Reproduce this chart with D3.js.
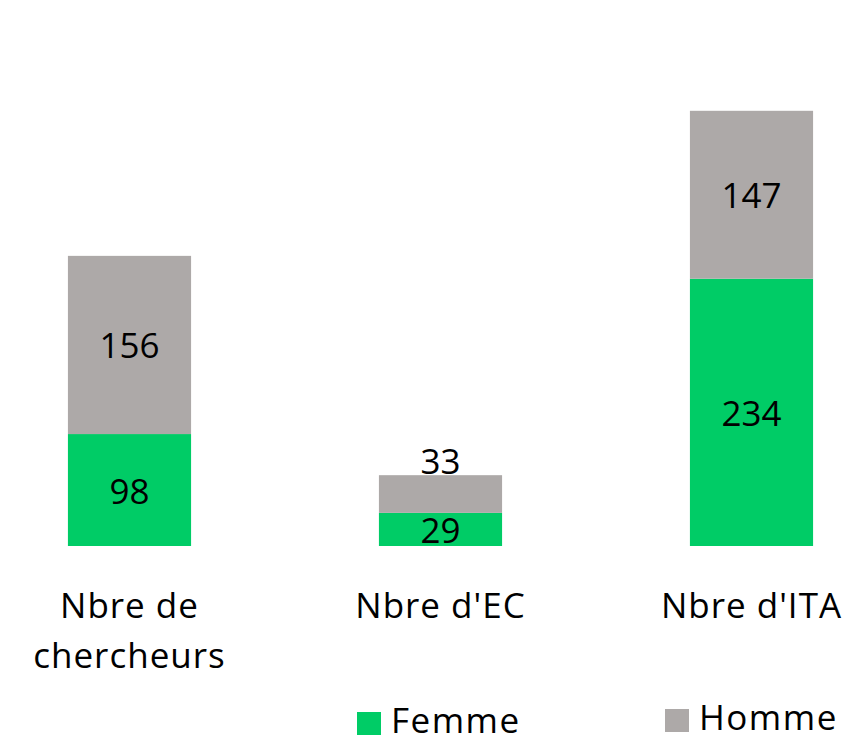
<!DOCTYPE html>
<html><head><meta charset="utf-8">
<script src="https://cdn.jsdelivr.net/npm/d3@7"></script>
<style>body{margin:0;background:#fff}svg{display:block}text{font-family:"Open Sans","Noto Sans",sans-serif;fill:#000}</style>
</head><body>
<svg id="c" width="851" height="738"></svg>
<script>
const categories = ["Nbre de chercheurs", "Nbre d'EC", "Nbre d'ITA"];
const categoryLines = [["Nbre de", "chercheurs"], ["Nbre d'EC"], ["Nbre d'ITA"]];
const femme = [98, 29, 234];
const homme = [156, 33, 147];
const seriesNames = ["Femme", "Homme"];
const colors = ["#00CC66", "#ADA9A8"];
// label placement for Homme values: inside segment or above bar
const hommeLabelAbove = [false, true, false];

const svg = d3.select("#c");
const W = 851, H = 738;
const x = d3.scaleBand().domain(categories).range([-26, 907]).paddingInner(0.604).paddingOuter(0.302);
const yMax = 381 / (435 / 381) ; // placeholder not used
const y = d3.scaleLinear().domain([0, 478]).range([546, 0]);

const data = categories.map((c, i) => ({cat: c, Femme: femme[i], Homme: homme[i]}));
const stacked = d3.stack().keys(seriesNames)(data);

const g = svg.append("g");
stacked.forEach((s, si) => {
  g.selectAll(null).data(s).enter().append("rect")
    .attr("x", d => x(d.data.cat))
    .attr("width", x.bandwidth())
    .attr("y", d => y(d[1]))
    .attr("height", d => y(d[0]) - y(d[1]))
    .attr("fill", colors[si]);
});

// value labels
stacked.forEach((s, si) => {
  g.selectAll(null).data(s).enter().append("text")
    .attr("x", d => x(d.data.cat) + x.bandwidth() / 2)
    .attr("y", (d, i) => {
      if (si === 1 && hommeLabelAbove[i]) return y(d[1]) - 15;
      return (y(d[0]) + y(d[1])) / 2;
    })
    .attr("text-anchor", "middle")
    .attr("dominant-baseline", "central")
    .attr("font-size", 35)
    .text(d => d[1] - d[0]);
});

// category labels
categories.forEach((c, i) => {
  const t = svg.append("text")
    .attr("x", x(c) + x.bandwidth() / 2)
    .attr("y", 618)
    .attr("text-anchor", "middle")
    .attr("font-size", 35)
    .attr("letter-spacing", 1);
  categoryLines[i].forEach((ln, j) => {
    t.append("tspan").attr("x", x(c) + x.bandwidth() / 2).attr("dy", j === 0 ? 0 : 50).text(ln);
  });
});

// legend
const legendPos = [{x: 357, y: 712}, {x: 665, y: 709}];
seriesNames.forEach((n, i) => {
  const lg = svg.append("g").attr("transform", `translate(${legendPos[i].x},${legendPos[i].y})`);
  lg.append("rect").attr("width", 24).attr("height", 23).attr("fill", colors[i]);
  lg.append("text").attr("x", 34).attr("y", 21).attr("font-size", 35).attr("letter-spacing", 1.5).text(n);
});
</script>
</body></html>
